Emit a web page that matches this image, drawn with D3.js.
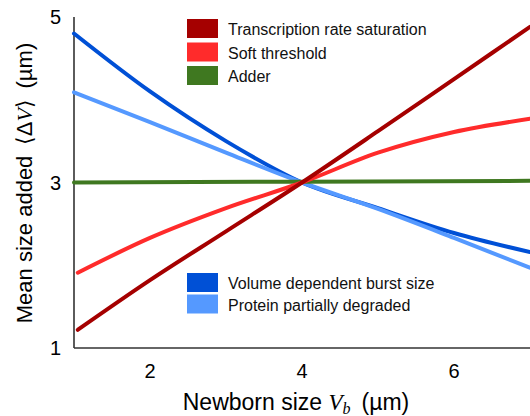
<!DOCTYPE html>
<html><head><meta charset="utf-8">
<script src="https://cdn.jsdelivr.net/npm/d3@7"></script>
<style>body{margin:0;background:#fff}svg{display:block}</style>
</head><body>
<svg id="c" width="530" height="416"></svg>
<script>
// ---- data ----
const xTicks = [2, 4, 6];
const yTicks = [1, 3, 5];
const xTranscription = [1.05, 2, 3, 4, 5, 6, 7];
const yTranscription = [1.22, 1.82, 2.41, 3.0, 3.62, 4.25, 4.88];
const xSoft = [1.05, 2, 3, 4, 5, 6, 7];
const ySoft = [1.91, 2.33, 2.69, 3.0, 3.36, 3.61, 3.77];
const xAdder = [1, 4, 7];
const yAdder = [3.0, 3.01, 3.02];
const xBurst = [1, 2, 3, 4, 5, 6, 7];
const yBurst = [4.8, 4.1, 3.5, 3.0, 2.69, 2.39, 2.16];
const xDegraded = [1, 2, 3, 4, 5, 6, 7];
const yDegraded = [4.09, 3.73, 3.36, 3.0, 2.68, 2.33, 1.97];
const legendTop = ["Transcription rate saturation", "Soft threshold", "Adder"];
const legendBottom = ["Volume dependent burst size", "Protein partially degraded"];

const colors = {
  transcription: "#a50000", soft: "#ff2b2b", adder: "#3f7820",
  burst: "#0050d6", degraded: "#5599ff"
};

const svg = d3.select("#c");
const x = d3.scaleLinear().domain([1, 7]).range([74, 530]);
const y = d3.scaleLinear().domain([1, 5]).range([348, 17]);
const font = "'Liberation Sans', Arial, Helvetica, sans-serif";
const serif = "'Liberation Serif', 'DejaVu Serif', serif";

// axes lines
svg.append("line").attr("x1", x(1)).attr("x2", x(1)).attr("y1", y(5)).attr("y2", y(1))
  .attr("stroke", "#333").attr("stroke-width", 1.6);
svg.append("line").attr("x1", x(1)).attr("x2", x(7)).attr("y1", y(1)).attr("y2", y(1))
  .attr("stroke", "#333").attr("stroke-width", 1.6);

// tick labels
svg.selectAll(".xt").data(xTicks).enter().append("text")
  .attr("x", d => x(d)).attr("y", 378).attr("text-anchor", "middle")
  .attr("font-family", font).attr("font-size", 20).text(d => d);
svg.selectAll(".yt").data(yTicks).enter().append("text")
  .attr("x", 61).attr("y", d => y(d) + 7).attr("text-anchor", "end")
  .attr("font-family", font).attr("font-size", 20).text(d => d);

// axis titles
const xt = svg.append("text").attr("x", 296).attr("y", 410).attr("text-anchor", "middle")
  .attr("font-family", font).attr("font-size", 23);
xt.append("tspan").text("Newborn size ");
xt.append("tspan").attr("font-family", serif).attr("font-style", "italic").text("V");
xt.append("tspan").attr("font-family", serif).attr("font-style", "italic")
  .attr("font-size", 16).attr("dy", 4).text("b");
xt.append("tspan").attr("dy", -4).text("\u2009 (µm)");

const yt = svg.append("text").attr("transform", "translate(32,183) rotate(-90)")
  .attr("text-anchor", "middle").attr("font-family", font).attr("font-size", 22);
yt.append("tspan").text("Mean size added \u2009⟨Δ");
yt.append("tspan").attr("font-family", serif).attr("font-style", "italic").text("V");
yt.append("tspan").text("⟩\u2009 (µm)");

// lines
const series = [
  {xs: xBurst, ys: yBurst, c: colors.burst},
  {xs: xDegraded, ys: yDegraded, c: colors.degraded},
  {xs: xAdder, ys: yAdder, c: colors.adder},
  {xs: xSoft, ys: ySoft, c: colors.soft},
  {xs: xTranscription, ys: yTranscription, c: colors.transcription}
];
const line = d3.line().x(d => x(d[0])).y(d => y(d[1])).curve(d3.curveMonotoneX);
series.forEach(s => {
  svg.append("path").datum(s.xs.map((v, i) => [v, s.ys[i]]))
    .attr("d", line).attr("fill", "none").attr("stroke", s.c)
    .attr("stroke-width", 4).attr("stroke-linecap", "round");
});

// legends
function legend(items, cols, top, step) {
  items.forEach((t, i) => {
    const yy = top + i * step;
    svg.append("rect").attr("x", 187).attr("y", yy).attr("width", 31).attr("height", 19).attr("fill", cols[i]);
    svg.append("text").attr("x", 228).attr("y", yy + 16).attr("font-family", font)
      .attr("font-size", 16).attr("fill", "#111").text(t);
  });
}
legend(legendTop, [colors.transcription, colors.soft, colors.adder], 19, 23.5);
legend(legendBottom, [colors.burst, colors.degraded], 273, 21.5);
</script>
</body></html>
